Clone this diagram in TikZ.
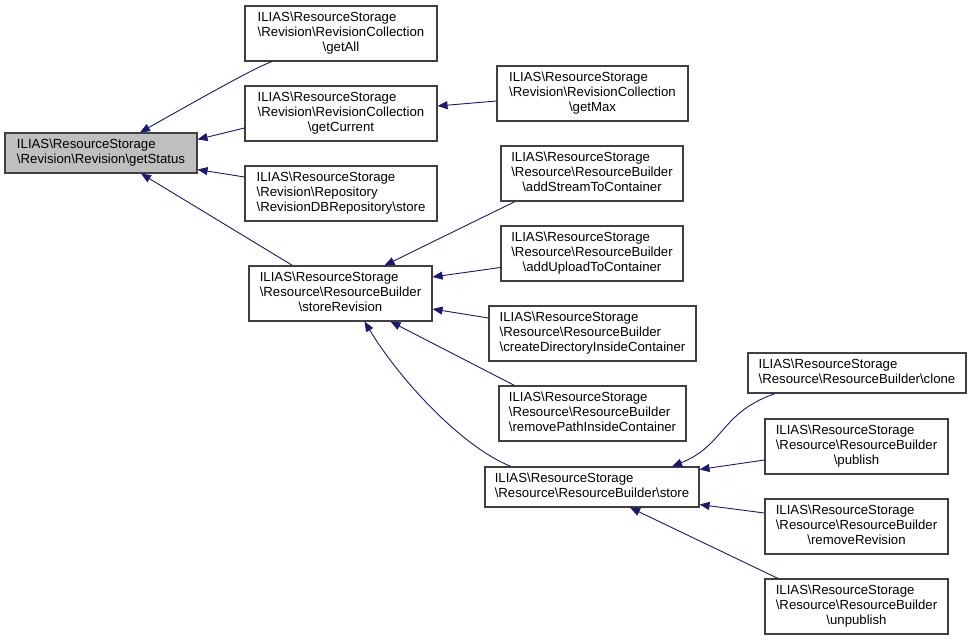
\documentclass[tikz,border=0pt]{standalone}
\usepackage{fontspec}
\setmainfont{Liberation Sans}
\usetikzlibrary{arrows.meta}
\definecolor{edgecol}{HTML}{191970}
\definecolor{boxcol}{HTML}{404040}
\definecolor{hlfill}{HTML}{BFBFBF}
\newcommand\bs{\textbackslash}
\newcommand\threel[3]{\begin{tabular}{@{}l@{}}#1\\#2\\\multicolumn{1}{@{}c@{}}{#3}\end{tabular}}
\newcommand\twol[2]{\begin{tabular}{@{}l@{}}#1\\\multicolumn{1}{@{}c@{}}{#2}\end{tabular}}
\tikzset{
  fn/.style={draw=boxcol, line width=1.1pt, fill=white, inner sep=0pt, rectangle,
    font=\fontsize{13.2}{14.7}\selectfont},
  hl/.style={fn, fill=hlfill},
  edge/.style={draw=edgecol, line width=0.9pt, -{Triangle[length=10pt,width=8pt]}},
}
\begin{document}
\begin{tikzpicture}[x=1pt,y=-1pt]
\useasboundingbox (0,0) rectangle (971,640);
\fill[white] (0,0) rectangle (971,640);
% nodes
\node[hl, minimum width=192pt, minimum height=40pt] (getStatus) at (101,153)
  {\twol{ILIAS\bs{}ResourceStorage}{\bs{}Revision\bs{}Revision\bs{}getStatus}};
\node[fn, minimum width=192pt, minimum height=55pt] (getAll) at (341,33.5)
  {\threel{ILIAS\bs{}ResourceStorage}{\bs{}Revision\bs{}RevisionCollection}{\bs{}getAll}};
\node[fn, minimum width=192pt, minimum height=55pt] (getCurrent) at (341,113.5)
  {\threel{ILIAS\bs{}ResourceStorage}{\bs{}Revision\bs{}RevisionCollection}{\bs{}getCurrent}};
\node[fn, minimum width=192pt, minimum height=55pt] (repo) at (341,193.5)
  {\threel{ILIAS\bs{}ResourceStorage}{\bs{}Revision\bs{}Repository}{\bs{}RevisionDBRepository\bs{}store}};
\node[fn, minimum width=183pt, minimum height=55pt] (storeRevision) at (340.5,293.5)
  {\threel{ILIAS\bs{}ResourceStorage}{\bs{}Resource\bs{}ResourceBuilder}{\bs{}storeRevision}};
\node[fn, minimum width=191pt, minimum height=55pt] (getMax) at (592.5,93.5)
  {\threel{ILIAS\bs{}ResourceStorage}{\bs{}Revision\bs{}RevisionCollection}{\bs{}getMax}};
\node[fn, minimum width=182pt, minimum height=55pt] (addStream) at (592,173.5)
  {\threel{ILIAS\bs{}ResourceStorage}{\bs{}Resource\bs{}ResourceBuilder}{\bs{}addStreamToContainer}};
\node[fn, minimum width=182pt, minimum height=55pt] (addUpload) at (592,253.5)
  {\threel{ILIAS\bs{}ResourceStorage}{\bs{}Resource\bs{}ResourceBuilder}{\bs{}addUploadToContainer}};
\node[fn, minimum width=207pt, minimum height=55pt] (createDir) at (592.5,333.5)
  {\threel{ILIAS\bs{}ResourceStorage}{\bs{}Resource\bs{}ResourceBuilder}{\bs{}createDirectoryInsideContainer}};
\node[fn, minimum width=187pt, minimum height=55pt] (removePath) at (592.5,413.5)
  {\threel{ILIAS\bs{}ResourceStorage}{\bs{}Resource\bs{}ResourceBuilder}{\bs{}removePathInsideContainer}};
\node[fn, minimum width=214pt, minimum height=40pt] (store) at (592,487)
  {\twol{ILIAS\bs{}ResourceStorage}{\bs{}Resource\bs{}ResourceBuilder\bs{}store}};
\node[fn, minimum width=218pt, minimum height=40pt] (clone) at (857,373)
  {\twol{ILIAS\bs{}ResourceStorage}{\bs{}Resource\bs{}ResourceBuilder\bs{}clone}};
\node[fn, minimum width=183pt, minimum height=55pt] (publish) at (856.5,446.5)
  {\threel{ILIAS\bs{}ResourceStorage}{\bs{}Resource\bs{}ResourceBuilder}{\bs{}publish}};
\node[fn, minimum width=183pt, minimum height=55pt] (removeRevision) at (856.5,526.5)
  {\threel{ILIAS\bs{}ResourceStorage}{\bs{}Resource\bs{}ResourceBuilder}{\bs{}removeRevision}};
\node[fn, minimum width=183pt, minimum height=55pt] (unpublish) at (856.5,606.5)
  {\threel{ILIAS\bs{}ResourceStorage}{\bs{}Resource\bs{}ResourceBuilder}{\bs{}unpublish}};
% edges
\draw[edge] ([xshift=-69pt]getAll.south) .. controls (258,67) and (240,76) .. ([xshift=39pt]getStatus.north);
\draw[edge] ([yshift=-14.5pt]getCurrent.west) -- ([yshift=-7pt]getStatus.north east);
\draw[edge] ([yshift=16.5pt]repo.west) -- ([yshift=4pt]getStatus.south east);
\draw[edge] ([xshift=-48pt]storeRevision.north) -- ([xshift=40pt]getStatus.south);
\draw[edge] ([yshift=-7.5pt]getMax.west) -- ([yshift=7.5pt]getCurrent.east);
\draw[edge] ([xshift=-77pt]addStream.south) -- ([xshift=44pt]storeRevision.north);
\draw[edge] ([yshift=-14pt]addUpload.west) -- ([yshift=16.5pt]storeRevision.east);
\draw[edge] ([yshift=15.5pt]createDir.west) -- ([yshift=-15.5pt]storeRevision.east);
\draw[edge] ([xshift=-78pt]removePath.north) -- ([xshift=50pt]storeRevision.south);
\draw[edge] ([xshift=-81pt]store.north) .. controls (462,447) and (400,380) .. ([xshift=24pt]storeRevision.south);
\draw[edge] ([xshift=-82pt]clone.south) .. controls (720,413) and (725,445) .. ([xshift=80pt]store.north);
\draw[edge] ([yshift=-13.5pt]publish.west) -- ([yshift=-3pt]store.north east);
\draw[edge] ([yshift=13.5pt]removeRevision.west) -- ([yshift=3pt]store.south east);
\draw[edge] ([xshift=-78.5pt]unpublish.north) -- ([xshift=38pt]store.south);
\end{tikzpicture}
\end{document}
